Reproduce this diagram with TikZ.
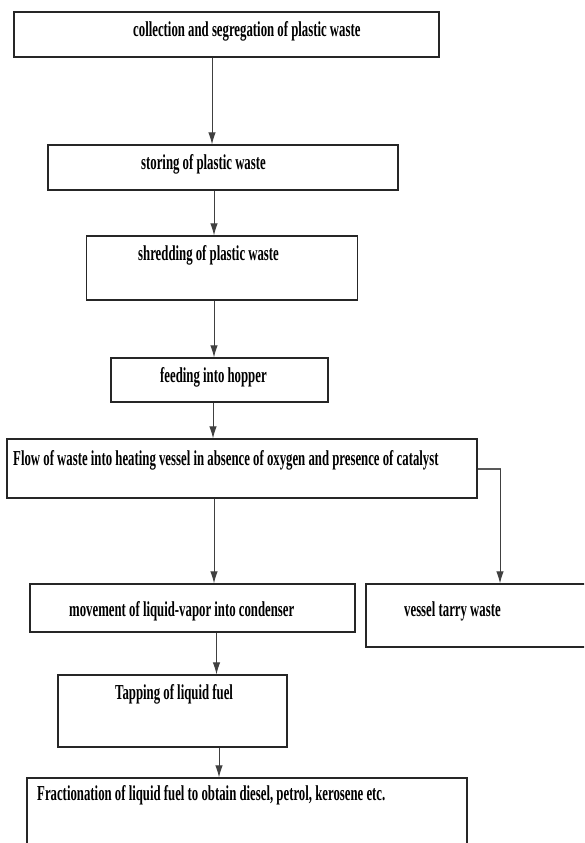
\documentclass[tikz,border=0pt]{standalone}
\usepackage{fontspec}
\setmainfont{Liberation Serif}[FakeStretch=0.6]
\usetikzlibrary{arrows.meta}
\begin{document}
\begin{tikzpicture}[x=1pt,y=-1pt,
  box/.style={draw=black!85, line width=1.3pt, rectangle, inner sep=0pt},
  lbl/.style={anchor=base west, inner sep=0pt, font=\fontsize{21.3}{25}\selectfont\bfseries, text=black},
  arr/.style={draw=black!75, line width=0.9pt, -{Latex[length=12pt,width=7.5pt]}},
  side/.style={draw=black!65, line width=2.4pt}]
\useasboundingbox (0,0) rectangle (584,843);
\clip (0,0) rectangle (584,843);
% boxes
\node[box, minimum width=425pt, minimum height=45pt] (b1) at (226.5,34.5) {};
\node[box, minimum width=350pt, minimum height=45pt] (b2) at (223,167.5) {};
\node[box, minimum width=271pt, minimum height=64pt] (b3) at (222,268) {};
\node[box, minimum width=217pt, minimum height=44pt] (b4) at (219.5,380) {};
\node[box, minimum width=470pt, minimum height=59pt] (b5) at (242,468.5) {};
\node[box, minimum width=325pt, minimum height=48pt] (b6) at (192.5,608) {};
\node[box, minimum width=230pt, minimum height=63pt] (b7) at (481,615.5) {};
\node[box, minimum width=229pt, minimum height=72pt] (b8) at (172.5,711) {};
\node[box, minimum width=440pt, minimum height=100pt] (b9) at (247,828) {};
% labels
\node[lbl] (t1) at (133,37) {collection and segregation of plastic waste};
\node[lbl] (t2) at (141,169) {storing of plastic waste};
\node[lbl] (t3) at (138,260) {shredding of plastic waste};
\node[lbl] (t4) at (160,382) {feeding into hopper};
\node[lbl] (t5) at (13,465) {Flow of waste into heating vessel in absence of oxygen and presence of catalyst};
\node[lbl] (t6) at (69,616) {movement of liquid-vapor into condenser};
\node[lbl] (t7) at (404,616) {vessel tarry waste};
\node[lbl] (t8) at (115,699) {Tapping of liquid fuel};
\node[lbl] (t9) at (37,800) {Fractionation of liquid fuel to obtain diesel, petrol, kerosene etc.};
% connector x positions
\coordinate (x1) at (212,0);
\coordinate (x2) at (214,0);
\coordinate (x3) at (214,0);
\coordinate (x4) at (213,0);
\coordinate (x5) at (214,0);
\coordinate (x6) at (216.5,0);
\coordinate (x7) at (219,0);
\coordinate (s1) at (500,469);
% connectors
\draw[arr] (b1.south -| x1) -- (b2.north -| x1);
\draw[arr] (b2.south -| x2) -- (b3.north -| x2);
\draw[arr] (b3.south -| x3) -- (b4.north -| x3);
\draw[arr] (b4.south -| x4) -- (b5.north -| x4);
\draw[arr] (b5.south -| x5) -- (b6.north -| x5);
\draw[arr] (b6.south -| x6) -- (b8.north -| x6);
\draw[arr] (b8.south -| x7) -- (b9.north -| x7);
\draw[side] (b5.east |- s1) -- ([xshift=1pt]s1);
\draw[arr] (s1) -- (s1 |- b7.north);
\end{tikzpicture}
\end{document}
